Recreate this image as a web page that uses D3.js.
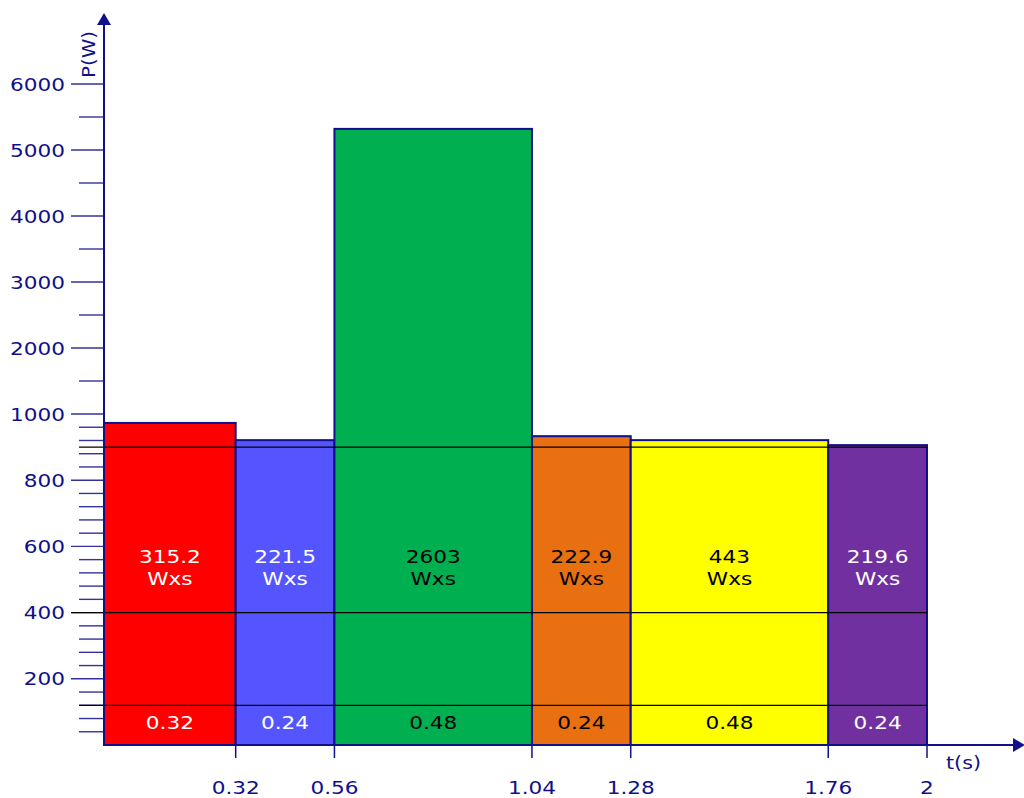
<!DOCTYPE html>
<html><head><meta charset="utf-8">
<script src="https://cdn.jsdelivr.net/npm/d3@7"></script>
<style>
body{margin:0;background:#fff;}
text{font-family:"DejaVu Sans",Verdana,sans-serif;}
</style></head>
<body>
<svg id="chart" width="1024" height="798"></svg>
<script>
const durations = [0.32, 0.24, 0.48, 0.24, 0.48, 0.24];
const powers = [973, 921, 5320, 933, 921, 906];
const energies = ["315.2", "221.5", "2603", "222.9", "443", "219.6"];
const energyUnit = "Wxs";
const fills = ["#ff0000", "#5555ff", "#00b050", "#e97010", "#ffff00", "#7030a0"];
const textColors = ["#ffffff", "#ffffff", "#000000", "#000000", "#000000", "#ffffff"];
const xTicks = [0.32, 0.56, 1.04, 1.28, 1.76, 2];
const xTickLabels = ["0.32", "0.56", "1.04", "1.28", "1.76", "2"];
const yMajor = [200, 400, 600, 800, 1000, 2000, 3000, 4000, 5000, 6000];
const yMinorLow = [40, 80, 120, 160, 240, 280, 320, 360, 440, 480, 520, 560, 640, 680, 720, 760, 840, 880, 920, 960];
const yMinorHigh = [1500, 2500, 3500, 4500, 5500];
const refLines = [120, 400, 900];

const navy = "#10108a";
const SX = 1.2;
const svg = d3.select("#chart");
const x = d3.scaleLinear().domain([0, 2]).range([104, 927]);
const y = d3.scaleLinear().domain([0, 1000, 6000]).range([745, 414, 84]);

const starts = [0, ...d3.cumsum(durations)].slice(0, durations.length);
const bars = durations.map((d, i) => ({start: starts[i], dur: d, p: powers[i], e: energies[i], fill: fills[i], tc: textColors[i]}));

function wideText(sel, fx, fy) {
  return sel.attr("transform", (d, i) => `translate(${fx(d, i)},${fy(d, i)}) scale(${SX},1)`)
    .attr("font-size", 18);
}

// ticks
const ticksG = svg.append("g");
ticksG.selectAll("line.minor").data(yMinorLow.concat(yMinorHigh)).join("line")
  .attr("x1", 79).attr("x2", 104).attr("y1", d => y(d)).attr("y2", d => y(d))
  .attr("stroke", navy).attr("stroke-width", 1.4).attr("opacity", 0.85);
ticksG.selectAll("line.major").data(yMajor).join("line")
  .attr("x1", 71).attr("x2", 104).attr("y1", d => y(d)).attr("y2", d => y(d))
  .attr("stroke", navy).attr("stroke-width", 1.4).attr("opacity", 0.85);
wideText(ticksG.selectAll("text").data(yMajor).join("text"), () => 65, d => y(d) + 6.5)
  .attr("text-anchor", "end").attr("fill", navy).text(d => d);

// bars
svg.append("g").selectAll("rect").data(bars).join("rect")
  .attr("x", d => x(d.start)).attr("width", d => x(d.start + d.dur) - x(d.start))
  .attr("y", d => y(d.p)).attr("height", d => y(0) - y(d.p))
  .attr("fill", d => d.fill).attr("stroke", navy).attr("stroke-width", 2);

// reference lines
svg.append("g").selectAll("line").data(refLines).join("line")
  .attr("x1", d => d === 400 ? 71 : 79).attr("x2", x(2))
  .attr("y1", d => y(d)).attr("y2", d => y(d))
  .attr("stroke", "#000").attr("stroke-width", 1.3);

// bar labels
const lab = svg.append("g").selectAll("g").data(bars).join("g");
wideText(lab.append("text"), d => x(d.start + d.dur / 2), () => 563)
  .attr("text-anchor", "middle").attr("fill", d => d.tc).text(d => d.e);
wideText(lab.append("text"), d => x(d.start + d.dur / 2), () => 585)
  .attr("text-anchor", "middle").attr("fill", d => d.tc).text(energyUnit);
wideText(lab.append("text"), d => x(d.start + d.dur / 2), () => 729)
  .attr("text-anchor", "middle").attr("fill", d => d.tc).text(d => d.dur.toFixed(2));

// axes
svg.append("line").attr("x1", 104).attr("x2", 104).attr("y1", 746).attr("y2", 22)
  .attr("stroke", navy).attr("stroke-width", 2);
svg.append("path").attr("d", "M104,13 L97,25 L111,25 Z").attr("fill", navy);
svg.append("line").attr("x1", 103).attr("x2", 1016).attr("y1", 745).attr("y2", 745)
  .attr("stroke", navy).attr("stroke-width", 2);
svg.append("path").attr("d", "M1025,745 L1013,738 L1013,752 Z").attr("fill", navy);

// x ticks
svg.append("g").selectAll("line").data(xTicks).join("line")
  .attr("x1", d => x(d)).attr("x2", d => x(d)).attr("y1", 745).attr("y2", 758)
  .attr("stroke", navy).attr("stroke-width", 1.5);
wideText(svg.append("g").selectAll("text").data(xTicks).join("text"), d => x(d), () => 794)
  .attr("text-anchor", "middle").attr("fill", navy)
  .text((d, i) => xTickLabels[i]);

// axis titles
svg.append("text").attr("transform", "translate(95,78) rotate(-90) scale(1.1,1)")
  .attr("font-size", 18).attr("fill", navy).text("P(W)");
svg.append("text").attr("transform", "translate(946,769) scale(1.15,1)")
  .attr("font-size", 18).attr("fill", navy).text("t(s)");
</script>
</body></html>
